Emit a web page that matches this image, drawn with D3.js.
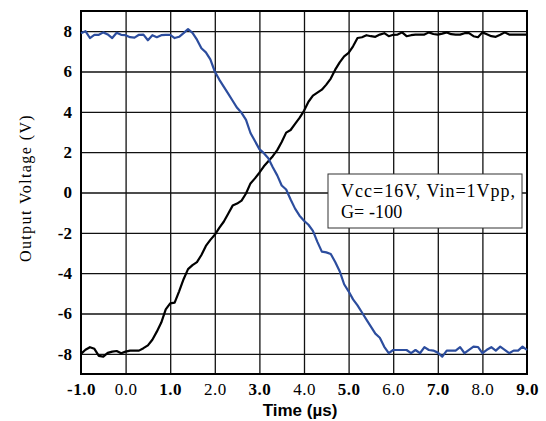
<!DOCTYPE html>
<html>
<head>
<meta charset="utf-8">
<script src="https://cdn.jsdelivr.net/npm/d3@7"></script>
<style>
  body { margin: 0; padding: 0; background: #fff; }
  svg { display: block; }
  .tick text { fill: #000; }
</style>
</head>
<body>
<svg id="chart" width="546" height="421"></svg>
<script>
// sample times (µs), one every 0.1 µs
const time = [
  -1.0,-0.9,-0.8,-0.7,-0.6,-0.5,-0.4,-0.3,-0.2,-0.1,
  0.0,0.1,0.2,0.3,0.4,0.5,0.6,0.7,0.8,0.9,
  1.0,1.1,1.2,1.3,1.4,1.5,1.6,1.7,1.8,1.9,
  2.0,2.1,2.2,2.3,2.4,2.5,2.6,2.7,2.8,2.9,
  3.0,3.1,3.2,3.3,3.4,3.5,3.6,3.7,3.8,3.9,
  4.0,4.1,4.2,4.3,4.4,4.5,4.6,4.7,4.8,4.9,
  5.0,5.1,5.2,5.3,5.4,5.5,5.6,5.7,5.8,5.9,
  6.0,6.1,6.2,6.3,6.4,6.5,6.6,6.7,6.8,6.9,
  7.0,7.1,7.2,7.3,7.4,7.5,7.6,7.7,7.8,7.9,
  8.0,8.1,8.2,8.3,8.4,8.5,8.6,8.7,8.8,8.9,
  9.0
];

// blue trace (falling edge)
const blueV = [
  7.9,8.0,7.66,7.82,7.82,7.94,7.84,7.66,7.92,7.82,
  7.8,7.7,7.68,7.82,7.83,7.55,7.8,7.7,7.8,7.82,
  7.82,7.66,7.72,7.9,8.1,7.92,7.58,7.15,6.95,6.6,
  6.0,5.6,5.25,4.9,4.55,4.2,3.95,3.6,2.95,2.55,
  2.15,1.95,1.7,1.25,0.85,0.35,0.15,-0.35,-0.8,-1.15,
  -1.4,-1.6,-1.9,-2.45,-2.93,-2.97,-3.05,-3.45,-3.9,-4.55,
  -4.9,-5.3,-5.6,-5.95,-6.3,-6.65,-7.0,-7.2,-7.65,-7.97,
  -7.81,-7.81,-7.81,-7.81,-7.97,-7.81,-7.97,-7.67,-7.81,-7.84,
  -7.94,-8.14,-7.84,-7.84,-7.84,-7.67,-7.97,-7.8,-7.64,-7.66,
  -7.97,-7.8,-7.67,-7.84,-7.64,-7.8,-7.97,-7.84,-7.84,-7.64,
  -7.81
];

// black trace (rising edge)
const blackV = [
  -8.0,-7.8,-7.67,-7.75,-8.1,-8.14,-7.95,-7.89,-7.86,-7.97,
  -7.89,-7.84,-7.84,-7.84,-7.72,-7.58,-7.3,-6.9,-6.45,-5.8,
  -5.5,-5.46,-4.9,-4.3,-3.8,-3.6,-3.45,-3.1,-2.65,-2.35,
  -2.1,-1.75,-1.45,-1.05,-0.65,-0.55,-0.4,-0.05,0.45,0.7,
  0.98,1.3,1.55,1.8,2.1,2.5,2.97,3.1,3.4,3.7,
  4.05,4.5,4.8,4.95,5.1,5.35,5.65,6.09,6.45,6.75,
  6.92,7.25,7.66,7.7,7.8,7.75,7.72,7.83,7.9,7.75,
  7.82,7.83,7.94,7.75,7.8,7.83,7.83,7.83,7.94,7.86,
  7.83,7.88,7.94,7.85,7.83,7.83,7.9,7.9,7.75,7.7,
  7.94,7.85,7.75,7.72,7.82,7.94,7.83,7.83,7.83,7.83,
  7.83
];

const xTicks = [-1,0,1,2,3,4,5,6,7,8,9];
const yTicks = [-8,-6,-4,-2,0,2,4,6,8];
const noteLines = ['Vcc=16V, Vin=1Vpp,', 'G= -100'];

const svg = d3.select('#chart');
const L = 81, R = 527, T = 11, B = 374;

const x = d3.scaleLinear().domain([-1, 9]).range([L, R]);
const y = d3.scaleLinear().domain([-9, 9]).range([B, T]);

const serif = '"Liberation Serif", "Times New Roman", serif';

// grid
svg.append('g')
  .attr('transform', `translate(0,${B})`)
  .call(d3.axisBottom(x).tickValues(xTicks.slice(1, -1)).tickSize(-(B - T)).tickFormat(''))
  .call(g => g.select('.domain').remove())
  .call(g => g.selectAll('line').attr('stroke', '#111').attr('stroke-width', 1.3));

svg.append('g')
  .attr('transform', `translate(${L},0)`)
  .call(d3.axisLeft(y).tickValues(yTicks).tickSize(-(R - L)).tickFormat(''))
  .call(g => g.select('.domain').remove())
  .call(g => g.selectAll('line').attr('stroke', '#111').attr('stroke-width', 1.3));

// tick labels (plain hyphen for negatives)
svg.append('g')
  .attr('transform', `translate(0,${B})`)
  .call(d3.axisBottom(x).tickValues(xTicks).tickSize(0).tickPadding(9).tickFormat(d => d.toFixed(1)))
  .call(g => g.select('.domain').remove())
  .call(g => g.selectAll('text')
    .attr('font-family', serif)
    .attr('font-size', 17)
    .attr('letter-spacing', 0.5)
    .attr('font-weight', d => (d % 2 !== 0) ? 'bold' : 'normal'));

svg.append('g')
  .attr('transform', `translate(${L},0)`)
  .call(d3.axisLeft(y).tickValues(yTicks).tickSize(0).tickPadding(9).tickFormat(d => String(d)))
  .call(g => g.select('.domain').remove())
  .call(g => g.selectAll('text')
    .attr('font-family', serif)
    .attr('font-size', 17)
    .attr('font-weight', 'bold'));

// frame
svg.append('rect')
  .attr('x', L).attr('y', T)
  .attr('width', R - L).attr('height', B - T)
  .attr('fill', 'none').attr('stroke', '#000').attr('stroke-width', 2);

// traces
const line = d3.line().x((d, i) => x(time[i])).y(d => y(d));

svg.append('path')
  .datum(blackV)
  .attr('d', line)
  .attr('fill', 'none')
  .attr('stroke', '#000')
  .attr('stroke-width', 2.2)
  .attr('stroke-linejoin', 'round');

svg.append('path')
  .datum(blueV)
  .attr('d', line)
  .attr('fill', 'none')
  .attr('stroke', '#2c4d9e')
  .attr('stroke-width', 2.2)
  .attr('stroke-linejoin', 'round');

// note box
const note = svg.append('g');
note.append('rect')
  .attr('x', 328).attr('y', 174)
  .attr('width', 194).attr('height', 54)
  .attr('fill', '#fff').attr('stroke', '#333').attr('stroke-width', 1);
note.selectAll('text')
  .data(noteLines)
  .enter()
  .append('text')
    .attr('x', 341)
    .attr('y', (d, i) => 197 + i * 21)
    .attr('font-family', serif)
    .attr('font-size', 18)
    .attr('letter-spacing', (d, i) => i === 0 ? 1.0 : 0.1)
    .text(d => d);

// axis titles
svg.append('text')
  .attr('x', 300).attr('y', 416)
  .attr('text-anchor', 'middle')
  .attr('font-family', '"Liberation Sans", Arial, sans-serif')
  .attr('font-weight', 'bold')
  .attr('font-size', 17)
  .text('Time (µs)');

svg.append('text')
  .attr('transform', 'translate(31,188) rotate(-90)')
  .attr('text-anchor', 'middle')
  .attr('font-family', serif)
  .attr('font-size', 16)
  .attr('letter-spacing', 1.4)
  .text('Output Voltage (V)');
</script>
</body>
</html>
